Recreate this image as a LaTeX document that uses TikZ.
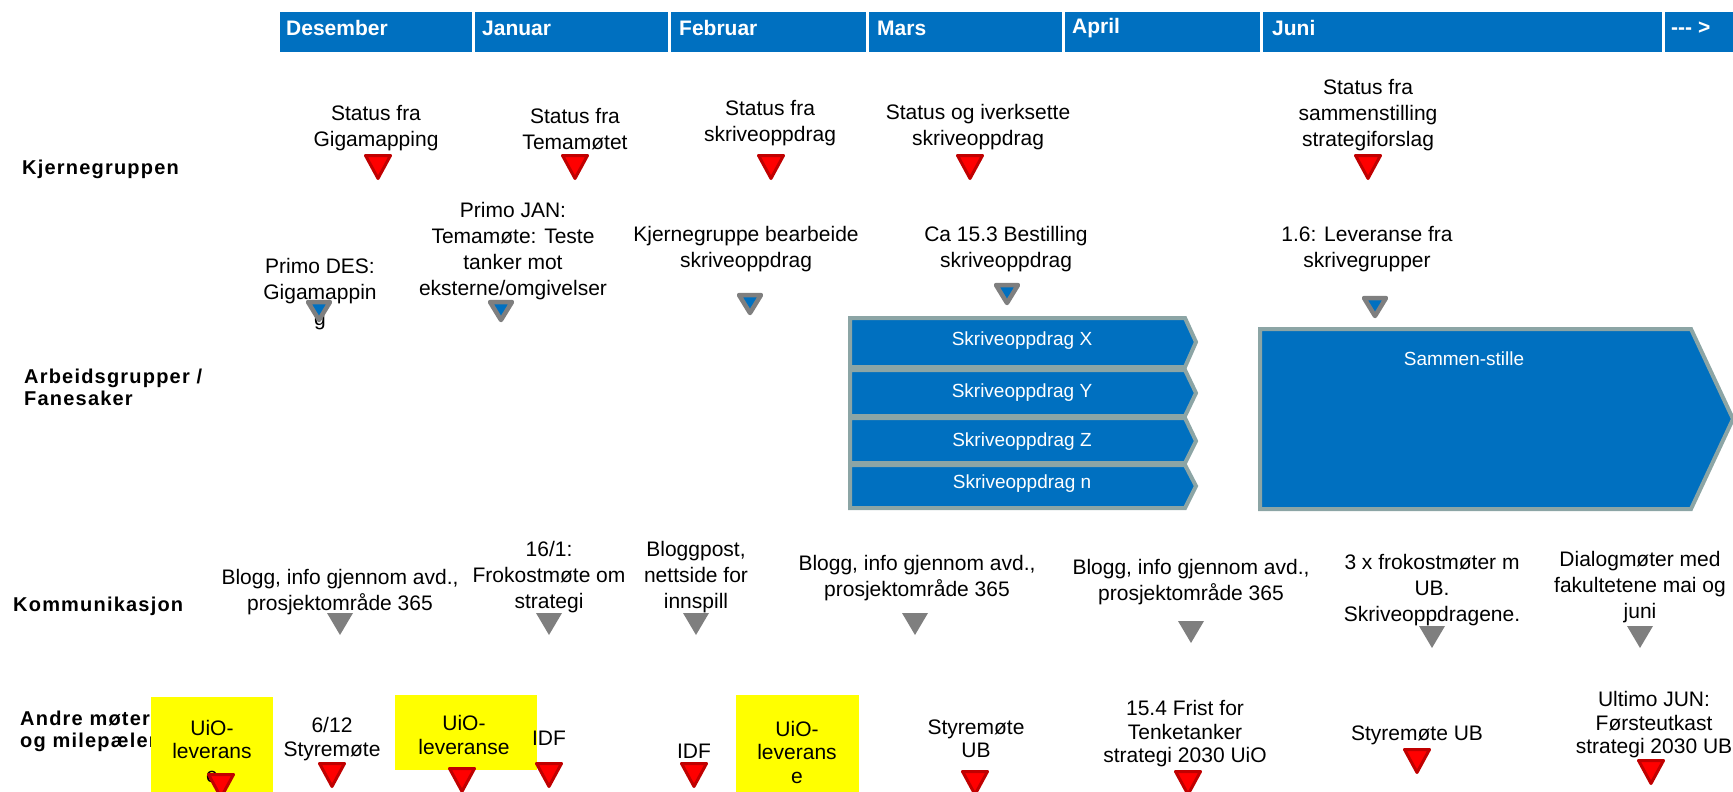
\documentclass[tikz,border=0pt]{standalone}
\usepackage{fontspec}
\setmainfont{Liberation Sans}
\definecolor{barblue}{HTML}{0070C0}
\definecolor{chevline}{HTML}{8CA5A5}
\definecolor{markred}{HTML}{FF0000}
\definecolor{markdark}{HTML}{C00000}
\definecolor{markgrey}{HTML}{7F7F7F}
\definecolor{notebg}{HTML}{FFFF00}
\tikzset{
  monthbox/.style={fill=barblue,draw=white,line width=1.5pt},
  monthtext/.style={anchor=west,text=white,inner sep=0pt,font=\bfseries\fontsize{21}{25}\selectfont},
  rowlabel/.style={anchor=west,align=left,inner sep=0pt,font=\bfseries\fontsize{20}{22}\selectfont\addfontfeatures{LetterSpace=6}},
  note/.style={align=center,inner sep=0pt,font=\fontsize{21}{26}\selectfont},
  lownote/.style={align=center,inner sep=0pt,font=\fontsize{21}{23.5}\selectfont},
  chev/.style={fill=barblue,draw=chevline,line width=4pt,line join=miter},
  chevtext/.style={text=white,inner sep=0pt,font=\fontsize{19}{23}\selectfont},
  yellowbox/.style={fill=notebg},
  redmark/.pic={\draw[draw=markdark,fill=markred,line width=3pt,line join=round] (-12.5,1.5) -- (12.5,1.5) -- (0,24.5) -- cycle;},
  bluemark/.pic={\draw[draw=markgrey,fill=barblue,line width=4.5pt,line join=round] (-11,2) -- (11,2) -- (0,20) -- cycle;},
  greymark/.pic={\fill[markgrey] (-13,0) -- (13,0) -- (0,22) -- cycle;}
}
\begin{document}
\begin{tikzpicture}[x=1pt,y=-1pt]
  \useasboundingbox (0,0) rectangle (1733,792);

  % months
  \draw[monthbox] (279,11) rectangle (473,53);
  \draw[monthbox] (474,11) rectangle (669,53);
  \draw[monthbox] (670,11) rectangle (867,53);
  \draw[monthbox] (868,11) rectangle (1063,53);
  \draw[monthbox] (1064,11) rectangle (1261,53);
  \draw[monthbox] (1262,11) rectangle (1663,53);
  \draw[monthbox] (1664,11) rectangle (1745,53);
  \node[monthtext] (des) at (286,28) {Desember};
  \node[monthtext] (jan) at (482,28) {Januar};
  \node[monthtext] (feb) at (679,28) {Februar};
  \node[monthtext] (mar) at (877,28) {Mars};
  \node[monthtext] (apr) at (1072,28) {April};
  \node[monthtext] (jun) at (1272,28) {Juni};
  \node[monthtext] (more) at (1671,28) {-\/-\/- >};

  % rows
  \node[rowlabel] (kjerne) at (22,169) {Kjernegruppen};
  \node[rowlabel] (arbeid) at (24,387) {Arbeidsgrupper /\\Fanesaker};
  \node[rowlabel] (komm) at (13,606) {Kommunikasjon};
  \node[rowlabel] (andre) at (20,731) {Andre møter\\og milepæler};

  % kjernegruppen
  \node[note] (k1) at (376,128) {Status fra\\Gigamapping};
  \node[note] (k2) at (575,129) {Status fra\\Temamøtet};
  \node[note] (k3) at (770,123) {Status fra\\skriveoppdrag};
  \node[note] (k4) at (978,127) {Status og iverksette\\skriveoppdrag};
  \node[note] (k5) at (1368,115) {Status fra\\sammenstilling\\strategiforslag};
  \pic at (378,154) {redmark};
  \pic at (575,154) {redmark};
  \pic at (771,154) {redmark};
  \pic at (970,154) {redmark};
  \pic at (1368,154) {redmark};

  % arbeidsgrupper
  \node[note] (a1) at (320,294) {Primo DES:\\Gigamappin\\g};
  \node[note] (a2) at (513,251) {Primo JAN:\\Temamøte: Teste\\tanker mot\\eksterne/omgivelser};
  \node[note] (a3) at (746,249) {Kjernegruppe bearbeide\\skriveoppdrag};
  \node[note] (a4) at (1006,249) {Ca 15.3 Bestilling\\skriveoppdrag};
  \node[note] (a5) at (1367,249) {1.6: Leveranse fra\\skrivegrupper};
  \pic at (319,300) {bluemark};
  \pic at (501,300) {bluemark};
  \pic at (750,293) {bluemark};
  \pic at (1007,283) {bluemark};
  \pic at (1375,296) {bluemark};

  \draw[chev] (850,318) -- (1185,318) -- (1196,342) -- (1185,367) -- (850,367) -- cycle;
  \draw[chev] (850,370) -- (1185,370) -- (1196,393) -- (1185,416) -- (850,416) -- cycle;
  \draw[chev] (850,418) -- (1185,418) -- (1196,441) -- (1185,463) -- (850,463) -- cycle;
  \draw[chev] (850,465) -- (1185,465) -- (1196,486) -- (1185,508) -- (850,508) -- cycle;
  \node[chevtext] (sx) at (1022,341) {Skriveoppdrag X};
  \node[chevtext] (sy) at (1022,393) {Skriveoppdrag Y};
  \node[chevtext] (sz) at (1022,442) {Skriveoppdrag Z};
  \node[chevtext] (sn) at (1022,484) {Skriveoppdrag n};
  \draw[chev] (1260,329) -- (1691,329) -- (1733,419) -- (1691,509) -- (1260,509) -- cycle;
  \node[chevtext] (samm) at (1464,359) {Sammen-stille};

  % kommunikasjon
  \node[note] (c1) at (340,592) {Blogg, info gjennom avd.,\\prosjektområde 365};
  \node[note] (c2) at (549,577) {16/1:\\Frokostmøte om\\strategi};
  \node[note] (c3) at (696,577) {Bloggpost,\\nettside for\\innspill};
  \node[note] (c4) at (917,578) {Blogg, info gjennom avd.,\\prosjektområde 365};
  \node[note] (c5) at (1191,582) {Blogg, info gjennom avd.,\\prosjektområde 365};
  \node[note] (c6) at (1432,590) {3 x frokostmøter m\\UB.\\Skriveoppdragene.};
  \node[note] (c7) at (1640,587) {Dialogmøter med\\fakultetene mai og\\juni};
  \pic at (340,613) {greymark};
  \pic at (549,613) {greymark};
  \pic at (696,613) {greymark};
  \pic at (915,613) {greymark};
  \pic at (1191,621) {greymark};
  \pic at (1432,626) {greymark};
  \pic at (1640,626) {greymark};

  % andre moter og milepaeler
  \fill[yellowbox] (151,697) rectangle (273,800);
  \fill[yellowbox] (395,695) rectangle (537,770);
  \fill[yellowbox] (736,695) rectangle (859,800);
  \node[lownote] (m1) at (212,751) {UiO-\\leverans\\e};
  \node[lownote] (m2) at (332,739) {6/12\\Styremøte};
  \node[lownote] (m3) at (464,735) {UiO-\\leveranse};
  \node[lownote] (m4) at (549,738) {IDF};
  \node[lownote] (m5) at (694,751) {IDF};
  \node[lownote] (m6) at (797,752) {UiO-\\leverans\\e};
  \node[lownote] (m7) at (976,739) {Styremøte\\UB};
  \node[lownote] (m8) at (1185,734) {15.4 Frist for\\Tenketanker\\strategi 2030 UiO};
  \node[lownote] (m9) at (1417,735) {Styremøte UB};
  \node[lownote] (m10) at (1654,725) {Ultimo JUN:\\Førsteutkast\\strategi 2030 UB};
  \pic at (221,773) {redmark};
  \pic at (332,762) {redmark};
  \pic at (462,767) {redmark};
  \pic at (549,762) {redmark};
  \pic at (694,762) {redmark};
  \pic at (975,770) {redmark};
  \pic at (1188,770) {redmark};
  \pic at (1417,748) {redmark};
  \pic at (1651,759) {redmark};
\end{tikzpicture}
\end{document}
